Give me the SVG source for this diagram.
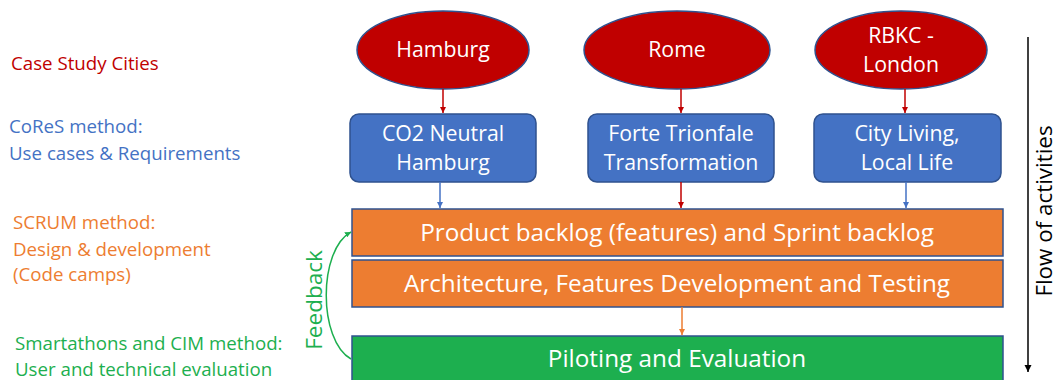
<svg xmlns="http://www.w3.org/2000/svg" width="1056" height="380" viewBox="0 0 1056 380">
<defs>
<style>
text{font-family:"Open Sans","Liberation Sans",sans-serif}
.lbl{font-size:18.7px}
.red{fill:#C00000}.blue{fill:#4472C4}.orange{fill:#ED7D31}.green{fill:#1DAF4F}
.ell{fill:#C00000;stroke:#2F528F;stroke-width:1.5}
.box{fill:#4472C4;stroke:#2F528F;stroke-width:1.5}
.obox{fill:#ED7D31;stroke:#2F528F;stroke-width:1.5}
.gbox{fill:#1DAF4F;stroke:#2F528F;stroke-width:1.5}
.wt{fill:#fff;font-size:21.3px;text-anchor:middle}
.bt{fill:#fff;font-size:24.3px;text-anchor:middle}
</style>
<marker id="ar" viewBox="0 0 10 10" refX="10" refY="5" markerWidth="4" markerHeight="4" orient="auto"><path d="M0,0L10,5L0,10z" fill="#C00000"/></marker>
<marker id="ab" viewBox="0 0 10 10" refX="10" refY="5" markerWidth="4" markerHeight="4" orient="auto"><path d="M0,0L10,5L0,10z" fill="#4472C4"/></marker>
<marker id="ao" viewBox="0 0 10 10" refX="10" refY="5" markerWidth="4" markerHeight="4" orient="auto"><path d="M0,0L10,5L0,10z" fill="#ED7D31"/></marker>
<marker id="ag" viewBox="0 0 10 10" refX="10" refY="5" markerWidth="4" markerHeight="4" orient="auto"><path d="M0,0L10,5L0,10z" fill="#1DAF4F"/></marker>
<marker id="ak" viewBox="0 0 10 10" refX="10" refY="5" markerWidth="5" markerHeight="5" orient="auto"><path d="M0,0L10,5L0,10z" fill="#000"/></marker>
</defs>
<g id="labels" class="lbl">
<text x="11" y="70" class="red">Case Study Cities</text>
<text x="9" y="133" class="blue">CoReS method:</text>
<text x="9" y="160" class="blue">Use cases &amp; Requirements</text>
<text x="13" y="229" class="orange">SCRUM method:</text>
<text x="13" y="256" class="orange">Design &amp; development</text>
<text x="13" y="281" class="orange">(Code camps)</text>
<text x="15" y="350" class="green">Smartathons and CIM method:</text>
<text x="15" y="376" class="green">User and technical evaluation</text>
</g>
<g id="hamburg"><ellipse class="ell" cx="443" cy="50" rx="86" ry="39"/><text class="wt" x="443" y="57">Hamburg</text></g>
<g id="rome"><ellipse class="ell" cx="677" cy="50" rx="93" ry="39"/><text class="wt" x="677" y="57">Rome</text></g>
<g id="rbkc"><ellipse class="ell" cx="901" cy="50" rx="86" ry="39"/><text class="wt" x="901" y="43">RBKC -</text><text class="wt" x="901" y="72">London</text></g>
<g id="co2"><rect class="box" x="350" y="114" width="186" height="68" rx="9"/><text class="wt" x="443" y="141">CO2 Neutral</text><text class="wt" x="443" y="170">Hamburg</text></g>
<g id="forte"><rect class="box" x="588" y="114" width="186" height="68" rx="9"/><text class="wt" x="681" y="141">Forte Trionfale</text><text class="wt" x="681" y="170">Transformation</text></g>
<g id="city"><rect class="box" x="814" y="114" width="187" height="68" rx="9"/><text class="wt" x="907" y="141">City Living,</text><text class="wt" x="907" y="170">Local Life</text></g>
<g id="backlog"><rect class="obox" x="352" y="209" width="651" height="47"/><text class="bt" x="677" y="241">Product backlog (features) and Sprint backlog</text></g>
<g id="arch"><rect class="obox" x="352" y="260" width="651" height="47"/><text class="bt" x="677" y="292">Architecture, Features Development and Testing</text></g>
<g id="pilot"><rect class="gbox" x="352" y="336" width="651" height="50"/><text class="bt" x="677" y="367">Piloting and Evaluation</text></g>
<g id="connectors" fill="none" stroke-width="1.5">
<line x1="443" y1="89" x2="443" y2="113" stroke="#C00000" marker-end="url(#ar)"/>
<line x1="681" y1="89" x2="681" y2="113" stroke="#C00000" marker-end="url(#ar)"/>
<line x1="905" y1="89" x2="905" y2="113" stroke="#C00000" marker-end="url(#ar)"/>
<line x1="440" y1="182" x2="440" y2="208" stroke="#4472C4" marker-end="url(#ab)"/>
<line x1="681" y1="182" x2="681" y2="208" stroke="#C00000" marker-end="url(#ar)"/>
<line x1="906" y1="182" x2="906" y2="208" stroke="#4472C4" marker-end="url(#ab)"/>
<line x1="682" y1="307" x2="682" y2="335" stroke="#ED7D31" marker-end="url(#ao)"/>
<path d="M351,359 C318,340 318,250 351,232" stroke="#1DAF4F" marker-end="url(#ag)"/>
<line x1="1028" y1="37" x2="1028" y2="372" stroke="#000" marker-end="url(#ak)"/>
</g>
<text class="green" font-size="22.5" transform="translate(322,300) rotate(-90)" text-anchor="middle">Feedback</text>
<text font-size="22.4" fill="#000" transform="translate(1052,211) rotate(-90)" text-anchor="middle">Flow of activities</text>
</svg>
